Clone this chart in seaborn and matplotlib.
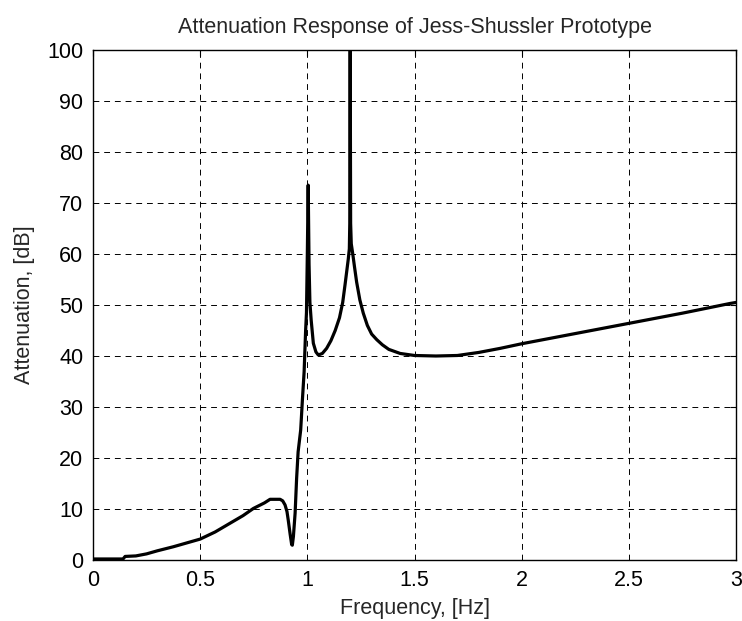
import matplotlib
matplotlib.use("Agg")
import matplotlib.pyplot as plt
import seaborn as sns
import pandas as pd

freq = [0.0, 0.14, 0.15, 0.20, 0.25, 0.30, 0.375, 0.45, 0.50, 0.57, 0.639, 0.70, 0.748,
        0.80, 0.826, 0.873, 0.885, 0.896, 0.905, 0.911, 0.920, 0.927, 0.930, 0.935,
        0.943, 0.950, 0.957, 0.969, 0.977, 0.985, 0.992, 0.996, 1.000, 1.004, 1.008,
        1.012, 1.018, 1.028, 1.040, 1.051, 1.070, 1.090, 1.110, 1.130, 1.150, 1.165,
        1.176, 1.185, 1.191, 1.196, 1.198, 1.200, 1.202, 1.205, 1.212, 1.220, 1.230,
        1.245, 1.261, 1.280, 1.300, 1.324, 1.350, 1.380, 1.433, 1.50, 1.60, 1.70,
        1.80, 1.90, 2.00, 2.25, 2.50, 2.75, 2.972, 3.00]
atten = [0.2, 0.2, 0.7, 0.8, 1.2, 1.8, 2.6, 3.5, 4.1, 5.5, 7.2, 8.7, 10.1,
         11.2, 11.9, 11.9, 11.6, 10.8, 9.5, 7.8, 5.0, 3.0, 2.9, 4.6,
         9.2, 16.0, 21.2, 25.5, 31.4, 36.9, 45.0, 48.5, 60.0, 73.5, 58.0,
         50.5, 47.0, 42.5, 40.8, 40.2, 40.5, 41.5, 43.0, 45.0, 47.5, 50.5,
         54.0, 57.0, 59.0, 61.0, 66.0, 100.0, 66.0, 62.0, 60.0, 57.5, 54.5,
         51.0, 48.4, 46.0, 44.3, 43.2, 42.2, 41.3, 40.5, 40.1, 40.0, 40.1,
         40.7, 41.5, 42.4, 44.4, 46.4, 48.4, 50.3, 50.5]

df = pd.DataFrame({"Frequency": freq, "Attenuation": atten})

sns.set_style("white")
plt.rcParams['font.family'] = ['Liberation Sans', 'DejaVu Sans']

fig = plt.figure(figsize=(7.42, 6.21), dpi=100)
ax = fig.add_axes([93/742, 1 - 560/621, (736 - 93)/742, (560 - 50)/621])

sns.lineplot(data=df, x="Frequency", y="Attenuation", ax=ax, color="black",
             linewidth=2.3, sort=False, estimator=None)

ax.set_xlim(0, 3)
ax.set_ylim(0, 100)
ax.set_xticks([0, 0.5, 1, 1.5, 2, 2.5, 3])
ax.set_xticklabels(["0", "0.5", "1", "1.5", "2", "2.5", "3"])
ax.set_yticks(list(range(0, 101, 10)))
ax.grid(True, color="black", linestyle=(0, (6, 5)), linewidth=0.7)
ax.set_axisbelow(True)
for s in ax.spines.values():
    s.set_color("black")
    s.set_linewidth(1.0)
    s.set_visible(True)
fs = 15.5
ax.tick_params(direction="in", length=4, width=0.8, colors="black",
               labelsize=fs, top=True, right=True, pad=7)
ax.set_title("Attenuation Response of Jess-Shussler Prototype", fontsize=fs, pad=12)
ax.set_xlabel("Frequency, [Hz]", fontsize=fs, labelpad=5)
ax.set_ylabel("Attenuation, [dB]", fontsize=fs, labelpad=9)

fig.savefig("out.png", dpi=100)
